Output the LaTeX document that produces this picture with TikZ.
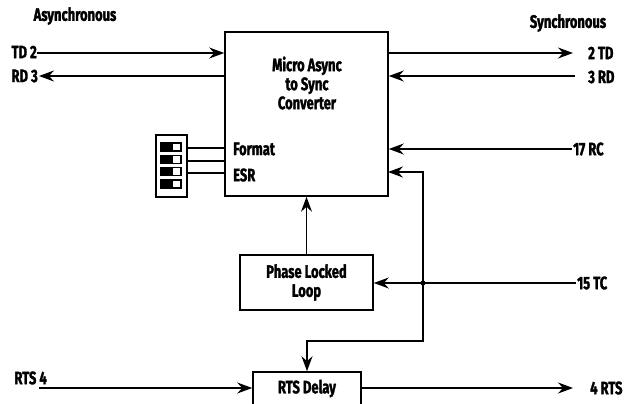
\documentclass[tikz,border=0pt]{standalone}
\usepackage{fontspec}
\setmainfont{Fira Sans}[FakeStretch=0.72,BoldFeatures={FakeBold=1.6}]
\usetikzlibrary{arrows.meta}

\begin{document}
\begin{tikzpicture}[
	x=1pt, y=-1pt,
	wire/.style={ line width=1.2pt },
	sig/.style={ wire, -{Stealth[length=15pt,width=11pt,inset=5pt]} },
	block/.style={ draw, line width=1.6pt, inner sep=0pt, align=center },
	txt/.style={ font=\bfseries\fontsize{18}{19}\selectfont, inner sep=0pt, align=center },
	junction/.style={ circle, fill, inner sep=0pt, minimum size=5pt }
]
\useasboundingbox (0,0) rectangle (632,404);

\node at (75,16) (async) [txt] {Asynchronous};
\node at (568,23) (sync) [txt] {Synchronous};

\node at (306.5,114) (conv) [block,minimum width=163pt,minimum height=164pt] {};
\node at (307,83) (convtxt) [txt] {Micro Async\\to Sync\\Converter};
\node at (233,149) (format) [txt,anchor=west] {Format};
\node at (233,175) (esr) [txt,anchor=west] {ESR};

\node at (306.5,282.5) (pll) [block,txt,draw,line width=1.6pt,minimum width=133pt,minimum height=55pt] {Phase Locked\\Loop};
\node at (307,388.5) (rts) [block,txt,draw,line width=1.6pt,minimum width=108pt,minimum height=33pt] {RTS Delay};

% left side signals
\node at (37,52) (tdtwo) [txt,anchor=east] {TD 2};
\node at (38,76) (rdthree) [txt,anchor=east] {RD 3};
\node at (47,378) (rtsfour) [txt,anchor=east] {RTS 4};
\coordinate (tdin) at (37,53);
\coordinate (rdout) at (39,76);
\coordinate (rtsin) at (39,388);
\draw[sig] (tdin) -- (tdin -| conv.west);
\draw[sig] (rdout -| conv.west) -- (rdout);
\draw[sig] (rtsin) -- (rtsin -| rts.west);

% right side signals
\node at (588,53) (twotd) [txt,anchor=west] {2 TD};
\node at (588,77) (threerd) [txt,anchor=west] {3 RD};
\node at (573,149) (rc) [txt,anchor=west] {17 RC};
\node at (577,283) (tc) [txt,anchor=west] {15 TC};
\node at (590,388) (fourrts) [txt,anchor=west] {4 RTS};
\coordinate (tdout) at (573,53);
\coordinate (rdin) at (575,76);
\coordinate (rcin) at (572,149);
\coordinate (tcin) at (576,283);
\coordinate (rtsout) at (573,388);
\draw[sig] (tdout -| conv.east) -- (tdout);
\foreach \p in {rdin,rcin} \draw[sig] (\p) -- (\p -| conv.east);
\draw[sig] (rts.east |- rtsout) -- (rtsout);

% clock paths
\node at (423,283) (split) [junction] {};
\coordinate (clkin) at (388,172);
\coordinate (bend) at (423,341);
\draw[sig] (tcin) -- (tcin -| pll.east);
\draw[sig] (split.center) |- (clkin);
\draw[sig] (split.center) -- (bend) -| (rts.north);
\draw[sig] (pll.north) -- (pll.north |- conv.south);

% option switches
\node at (171.5,166) (dip) [draw,line width=1.4pt,minimum width=31pt,minimum height=62pt] {};
\foreach \y in {147,159.5,171.5,184} {
	\draw[line width=1.2pt,fill=black] (161,\y-4) rectangle (172,\y+4);
	\draw[line width=1.2pt] (172,\y-4) rectangle (181,\y+4);
}
\foreach \y in {148,161,173} \draw[wire] (dip.east |- 0,\y) -- (conv.west |- 0,\y);

\end{tikzpicture}
\end{document}
